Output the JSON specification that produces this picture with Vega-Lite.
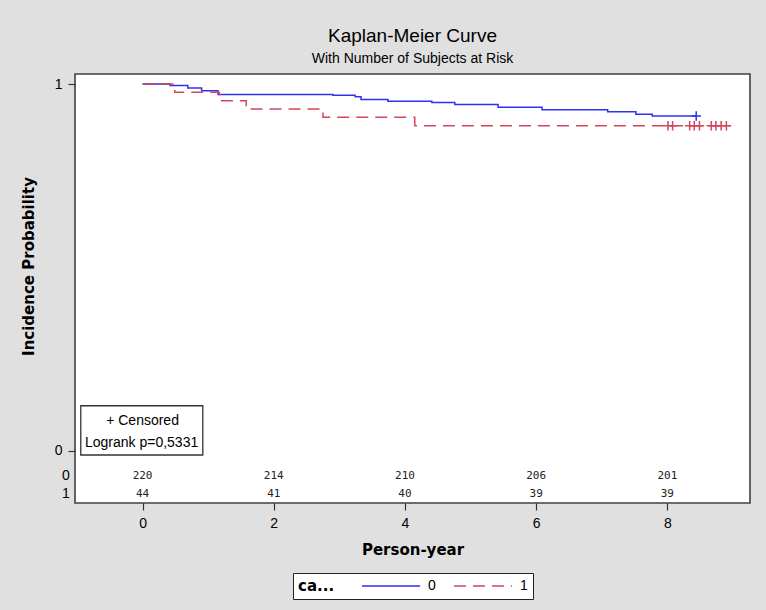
{
  "$schema": "https://vega.github.io/schema/vega-lite/v6.json",
  "autosize": "none",
  "width": 675,
  "height": 429,
  "padding": {"left": 75, "top": 74, "right": 16, "bottom": 107},
  "background": "#e0e0e0",
  "title": {
    "text": "Kaplan-Meier Curve",
    "subtitle": "With Number of Subjects at Risk",
    "anchor": "middle",
    "font": "Liberation Sans",
    "fontSize": 19,
    "fontWeight": "normal",
    "color": "#000000",
    "subtitleFont": "Liberation Sans",
    "subtitleFontSize": 14,
    "subtitleColor": "#000000",
    "offset": 8,
    "subtitlePadding": 6
  },
  "config": {
    "view": {"stroke": "#404040", "strokeWidth": 1.6, "fill": "white"},
    "text": {"font": "Liberation Sans"}
  },
  "datasets": {
    "km": [
      {"group": "0", "t": 0, "p": 1},
      {"group": "0", "t": 0.42, "p": 0.9959},
      {"group": "0", "t": 0.69, "p": 0.9891},
      {"group": "0", "t": 0.9, "p": 0.9814},
      {"group": "0", "t": 1.15, "p": 0.9714},
      {"group": "0", "t": 2.9, "p": 0.9692},
      {"group": "0", "t": 3.24, "p": 0.9651},
      {"group": "0", "t": 3.33, "p": 0.9577},
      {"group": "0", "t": 3.74, "p": 0.9528},
      {"group": "0", "t": 4.41, "p": 0.9495},
      {"group": "0", "t": 4.76, "p": 0.9441},
      {"group": "0", "t": 5.42, "p": 0.9367},
      {"group": "0", "t": 6.09, "p": 0.9296},
      {"group": "0", "t": 7.09, "p": 0.9244},
      {"group": "0", "t": 7.52, "p": 0.9173},
      {"group": "0", "t": 7.77, "p": 0.9127},
      {"group": "0", "t": 8.44, "p": 0.9127},
      {"group": "1", "t": 0, "p": 1},
      {"group": "1", "t": 0.49, "p": 0.9773},
      {"group": "1", "t": 1.17, "p": 0.9545},
      {"group": "1", "t": 1.58, "p": 0.9318},
      {"group": "1", "t": 2.75, "p": 0.9091},
      {"group": "1", "t": 4.15, "p": 0.8864},
      {"group": "1", "t": 8.96, "p": 0.8864}
    ],
    "censored": [
      {"group": "0", "t": 8.44, "p": 0.9127},
      {"group": "1", "t": 8.01, "p": 0.8864},
      {"group": "1", "t": 8.08, "p": 0.8864},
      {"group": "1", "t": 8.34, "p": 0.8864},
      {"group": "1", "t": 8.41, "p": 0.8864},
      {"group": "1", "t": 8.49, "p": 0.8864},
      {"group": "1", "t": 8.67, "p": 0.8864},
      {"group": "1", "t": 8.74, "p": 0.8864},
      {"group": "1", "t": 8.82, "p": 0.8864},
      {"group": "1", "t": 8.9, "p": 0.8864}
    ],
    "risk": [
      {"group": "0", "t": 0, "n": 220},
      {"group": "0", "t": 2, "n": 214},
      {"group": "0", "t": 4, "n": 210},
      {"group": "0", "t": 6, "n": 206},
      {"group": "0", "t": 8, "n": 201},
      {"group": "1", "t": 0, "n": 44},
      {"group": "1", "t": 2, "n": 41},
      {"group": "1", "t": 4, "n": 40},
      {"group": "1", "t": 6, "n": 39},
      {"group": "1", "t": 8, "n": 39}
    ]
  },
  "layer": [
    {
      "data": {"name": "km"},
      "mark": {"type": "line", "interpolate": "step-after", "strokeWidth": 1.5},
      "encoding": {
        "x": {
          "field": "t",
          "type": "quantitative",
          "scale": {"domain": [-1.03, 9.26], "nice": false, "zero": false},
          "axis": {
            "title": "Person-year",
            "values": [0, 2, 4, 6, 8],
            "format": "d",
            "grid": false,
            "domain": false,
            "tickSize": 7,
            "tickColor": "#333333",
            "tickWidth": 1.2,
            "labelFont": "Liberation Sans",
            "labelFontSize": 14,
            "labelColor": "#000000",
            "labelPadding": 6,
            "titleFont": "DejaVu Sans",
            "titleFontSize": 15,
            "titleFontWeight": "bold",
            "titleColor": "#000000",
            "titlePadding": 12
          }
        },
        "y": {
          "field": "p",
          "type": "quantitative",
          "scale": {"domain": [-0.1432, 1.0273], "nice": false, "zero": false},
          "axis": {
            "title": "Incidence Probability",
            "values": [0, 1],
            "format": "d",
            "grid": false,
            "domain": false,
            "tickSize": 7,
            "tickColor": "#333333",
            "tickWidth": 1.2,
            "labelFont": "Liberation Sans",
            "labelFontSize": 14,
            "labelColor": "#000000",
            "labelPadding": 6,
            "titleFont": "DejaVu Sans",
            "titleFontSize": 15,
            "titleFontWeight": "bold",
            "titleColor": "#000000",
            "titlePadding": 18,
            "titleY": 192
          }
        },
        "color": {
          "field": "group",
          "type": "nominal",
          "scale": {"domain": ["0", "1"], "range": ["#3030f0", "#d4475a"]},
          "legend": {
            "title": "ca...",
            "orient": "none",
            "legendX": 218,
            "legendY": 499,
            "direction": "horizontal",
            "titleOrient": "left",
            "titleFont": "DejaVu Sans",
            "titleFontWeight": "bold",
            "titleFontSize": 15,
            "titleColor": "#000000",
            "titlePadding": 26,
            "labelFont": "Liberation Sans",
            "labelFontSize": 14,
            "labelColor": "#000000",
            "labelOffset": 51,
            "columnPadding": 15,
            "symbolType": "M-1,0L7.3,0",
            "symbolSize": 196,
            "symbolStrokeWidth": 1.5,
            "strokeColor": "#222222",
            "fillColor": "white",
            "padding": 5
          }
        },
        "strokeDash": {
          "field": "group",
          "type": "nominal",
          "scale": {"domain": ["0", "1"], "range": [[1, 0], [12, 7]]},
          "legend": {
            "title": "ca...",
            "orient": "none",
            "legendX": 218,
            "legendY": 499,
            "direction": "horizontal",
            "titleOrient": "left",
            "titleFont": "DejaVu Sans",
            "titleFontWeight": "bold",
            "titleFontSize": 15,
            "titleColor": "#000000",
            "titlePadding": 26,
            "labelFont": "Liberation Sans",
            "labelFontSize": 14,
            "labelColor": "#000000",
            "labelOffset": 51,
            "columnPadding": 15,
            "symbolType": "M-1,0L7.3,0",
            "symbolSize": 196,
            "symbolStrokeWidth": 1.5,
            "strokeColor": "#222222",
            "fillColor": "white",
            "padding": 5
          }
        }
      }
    },
    {
      "data": {"name": "censored"},
      "transform": [{"filter": "datum.group === '0'"}],
      "mark": {"type": "point", "shape": "M-1,0L1,0M0,-1L0,1", "filled": false, "size": 90, "strokeWidth": 1.5, "color": "#3030f0", "opacity": 1},
      "encoding": {
        "x": {"field": "t", "type": "quantitative"},
        "y": {"field": "p", "type": "quantitative"}
      }
    },
    {
      "data": {"name": "censored"},
      "transform": [{"filter": "datum.group === '1'"}],
      "mark": {"type": "point", "shape": "M-1,0L1,0M0,-1L0,1", "filled": false, "size": 90, "strokeWidth": 1.5, "color": "#d4475a", "opacity": 1},
      "encoding": {
        "x": {"field": "t", "type": "quantitative"},
        "y": {"field": "p", "type": "quantitative"}
      }
    },
    {
      "data": {"values": [{}]},
      "mark": {"type": "rect", "fill": "white", "stroke": "#333333", "strokeWidth": 1.3},
      "encoding": {
        "x": {"datum": -0.942, "type": "quantitative"},
        "x2": {"datum": 0.918},
        "y": {"datum": 0.1222, "type": "quantitative"},
        "y2": {"datum": -0.0123}
      }
    },
    {
      "data": {"values": [{}]},
      "mark": {"type": "text", "text": "+ Censored", "fontSize": 14, "color": "#000000", "baseline": "middle", "align": "center"},
      "encoding": {
        "x": {"datum": 0, "type": "quantitative"},
        "y": {"datum": 0.0805, "type": "quantitative"}
      }
    },
    {
      "data": {"values": [{}]},
      "mark": {"type": "text", "text": "Logrank p=0,5331", "fontSize": 14, "color": "#000000", "baseline": "middle", "align": "center"},
      "encoding": {
        "x": {"datum": -0.015, "type": "quantitative"},
        "y": {"datum": 0.0196, "type": "quantitative"}
      }
    },
    {
      "data": {"name": "risk"},
      "transform": [{"filter": "datum.group === '0'"}],
      "mark": {"type": "text", "font": "DejaVu Sans Mono", "fontSize": 11, "color": "#222222", "baseline": "middle", "align": "center"},
      "encoding": {
        "x": {"field": "t", "type": "quantitative"},
        "y": {"datum": -0.0682, "type": "quantitative"},
        "text": {"field": "n", "type": "quantitative"}
      }
    },
    {
      "data": {"name": "risk"},
      "transform": [{"filter": "datum.group === '1'"}],
      "mark": {"type": "text", "font": "DejaVu Sans Mono", "fontSize": 11, "color": "#222222", "baseline": "middle", "align": "center"},
      "encoding": {
        "x": {"field": "t", "type": "quantitative"},
        "y": {"datum": -0.1187, "type": "quantitative"},
        "text": {"field": "n", "type": "quantitative"}
      }
    },
    {
      "data": {"values": [{}]},
      "mark": {"type": "text", "text": "0", "fontSize": 14, "color": "#000000", "baseline": "middle", "align": "center"},
      "encoding": {
        "x": {"datum": -1.17, "type": "quantitative"},
        "y": {"datum": -0.0682, "type": "quantitative"}
      }
    },
    {
      "data": {"values": [{}]},
      "mark": {"type": "text", "text": "1", "fontSize": 14, "color": "#000000", "baseline": "middle", "align": "center"},
      "encoding": {
        "x": {"datum": -1.17, "type": "quantitative"},
        "y": {"datum": -0.1187, "type": "quantitative"}
      }
    }
  ]
}
